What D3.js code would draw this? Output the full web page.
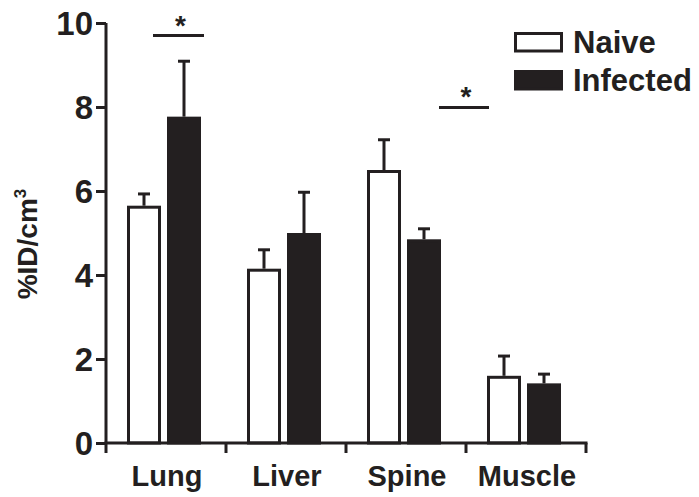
<!DOCTYPE html>
<html><head><meta charset="utf-8">
<script src="https://cdn.jsdelivr.net/npm/d3@7"></script>
<style>html,body{margin:0;padding:0;background:#fff}</style>
</head><body>
<svg id="c" width="699" height="497"></svg>
<script>
const categories = ["Lung", "Liver", "Spine", "Muscle"];
const groups = ["Naive", "Infected"];
const naiveMean = [5.65, 4.15, 6.5, 1.6];
const naiveErr = [0.28, 0.45, 0.72, 0.47];
const infectedMean = [7.77, 5.0, 4.85, 1.42];
const infectedErr = [1.32, 0.97, 0.25, 0.22];
const yTicks = [0, 2, 4, 6, 8, 10];
const sigCats = ["Lung", "Spine"];
const sigLevels = [9.7, 7.99];

const ink = "#231f20";
const font = "'Liberation Sans', Arial, Helvetica, sans-serif";
const svg = d3.select("#c");
const m = {left: 106, right: 586, top: 23, bottom: 443};

const x = d3.scaleBand().domain(categories).range([m.left, m.right]);
const xs = d3.scaleBand().domain(groups).range([21, 95]).paddingInner(0.15);
const y = d3.scaleLinear().domain([0, 10]).range([m.bottom, m.top]);

const data = [];
categories.forEach((c, i) => {
  data.push({c, g: "Naive", v: naiveMean[i], e: naiveErr[i]});
  data.push({c, g: "Infected", v: infectedMean[i], e: infectedErr[i]});
});

const sw = 3;
const eb = svg.append("g");
data.forEach(d => {
  const cx = x(d.c) + xs(d.g) + xs.bandwidth() / 2;
  eb.append("line").attr("x1", cx).attr("x2", cx).attr("y1", y(d.v)).attr("y2", y(d.v + d.e))
    .attr("stroke", ink).attr("stroke-width", sw);
  eb.append("line").attr("x1", cx - 6).attr("x2", cx + 6).attr("y1", y(d.v + d.e)).attr("y2", y(d.v + d.e))
    .attr("stroke", ink).attr("stroke-width", sw);
});

svg.append("g").selectAll("rect").data(data).join("rect")
  .attr("x", d => x(d.c) + xs(d.g) + sw / 2)
  .attr("width", xs.bandwidth() - sw)
  .attr("y", d => y(d.v) + sw / 2)
  .attr("height", d => y(0) - y(d.v) - sw / 2)
  .attr("fill", d => d.g === "Naive" ? "#fff" : ink)
  .attr("stroke", ink).attr("stroke-width", sw);

const ya = svg.append("g").attr("transform", `translate(${m.left},0)`)
  .call(d3.axisLeft(y).tickValues(yTicks).tickSize(10).tickPadding(3).tickFormat(d3.format("d")));
ya.select(".domain").attr("stroke", ink).attr("stroke-width", sw).attr("d", `M0,${y(0)}V${y(10)}`);
ya.selectAll(".tick line").attr("stroke", ink).attr("stroke-width", sw);
ya.selectAll(".tick text").attr("font-family", font).attr("font-weight", "bold")
  .attr("font-size", 33).attr("fill", ink).attr("dy", "0.36em");

const xa = svg.append("g").attr("transform", `translate(0,${m.bottom})`);
xa.append("line").attr("x1", m.left - 1.5).attr("x2", m.right + 1.5).attr("y1", 0).attr("y2", 0)
  .attr("stroke", ink).attr("stroke-width", sw);
const bounds = categories.map(c => x(c)).concat([m.right]);
xa.selectAll("line.t").data(bounds).join("line").attr("class", "t")
  .attr("x1", d => d).attr("x2", d => d).attr("y1", 0).attr("y2", 10)
  .attr("stroke", ink).attr("stroke-width", sw);
xa.selectAll("text").data(categories).join("text")
  .attr("x", d => x(d) + x.bandwidth() / 2 + 1).attr("y", 43)
  .attr("text-anchor", "middle").attr("font-family", font).attr("font-weight", "bold")
  .attr("font-size", 29).attr("fill", ink).text(d => d);

const yt = svg.append("text").attr("transform", `translate(37,244) rotate(-90)`)
  .attr("text-anchor", "middle").attr("font-family", font).attr("font-weight", "bold")
  .attr("font-size", 28).attr("fill", ink);
yt.append("tspan").text("%ID/cm");
yt.append("tspan").attr("font-size", 17).attr("dy", -11).text("3");

const sigSpan = [[47, 98], [93, 143]];
sigCats.forEach((c, i) => {
  const x1 = x(c) + sigSpan[i][0], x2 = x(c) + sigSpan[i][1];
  const yy = y(sigLevels[i]);
  svg.append("line").attr("x1", x1).attr("x2", x2).attr("y1", yy).attr("y2", yy)
    .attr("stroke", ink).attr("stroke-width", sw);
  svg.append("text").attr("x", (x1 + x2) / 2 + 2).attr("y", yy - 1).attr("text-anchor", "middle")
    .attr("font-family", font).attr("font-weight", "bold").attr("font-size", 28).attr("fill", ink).text("*");
});

const lg = svg.append("g");
groups.forEach((g, i) => {
  const top = 33.5 + i * 38;
  lg.append("rect").attr("x", 515.5).attr("y", top).attr("width", 46).attr("height", 17.5)
    .attr("fill", g === "Naive" ? "#fff" : ink).attr("stroke", ink).attr("stroke-width", sw);
  lg.append("text").attr("x", 573).attr("y", top + 19.5).attr("font-family", font).attr("font-weight", "bold")
    .attr("font-size", 31).attr("fill", ink).text(g);
});
</script>
</body></html>
